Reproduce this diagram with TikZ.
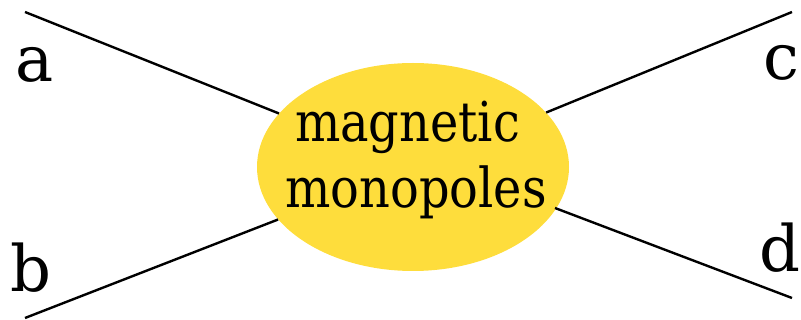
\documentclass[tikz,border=0pt]{standalone}
\usepackage{fontspec}
\usepackage{graphicx}
\setmainfont{DejaVu Serif}
\definecolor{blobgold}{RGB}{254,221,60}
\tikzset{
  blobstyle/.style={ellipse, fill=blobgold, draw=none, minimum width=312pt, minimum height=208pt, inner sep=0pt},
  wire/.style={line width=2.4pt, black},
  lbl/.style={anchor=base, inner sep=0pt, font=\fontsize{64}{64}\selectfont},
  inner/.style={anchor=base, inner sep=0pt, font=\fontsize{55}{55}\selectfont},
}
\usetikzlibrary{shapes.geometric}
\begin{document}
\begin{tikzpicture}[x=1pt,y=-1pt]
\useasboundingbox (0,0) rectangle (801,320);
\node[blobstyle] (blob) at (413,167) {};
\node[inner] (t1) at (407.5,142) {\scalebox{0.87}[1]{magnetic}};
\node[inner] (t2) at (416,208) {\scalebox{0.87}[1]{monopoles}};
\coordinate (pa) at (25,12);
\coordinate (pb) at (25,318);
\coordinate (pc) at (792,12);
\coordinate (pd) at (792,298);
\draw[wire] (pa) -- (blob);
\draw[wire] (pb) -- (blob);
\draw[wire] (pc) -- (blob);
\draw[wire] (pd) -- (555,208);
\node[lbl] (la) at (35,82) {a};
\node[lbl] (lb) at (31,292) {b};
\node[lbl] (lc) at (781,80) {c};
\node[lbl] (ld) at (780,272) {d};
\end{tikzpicture}
\end{document}
